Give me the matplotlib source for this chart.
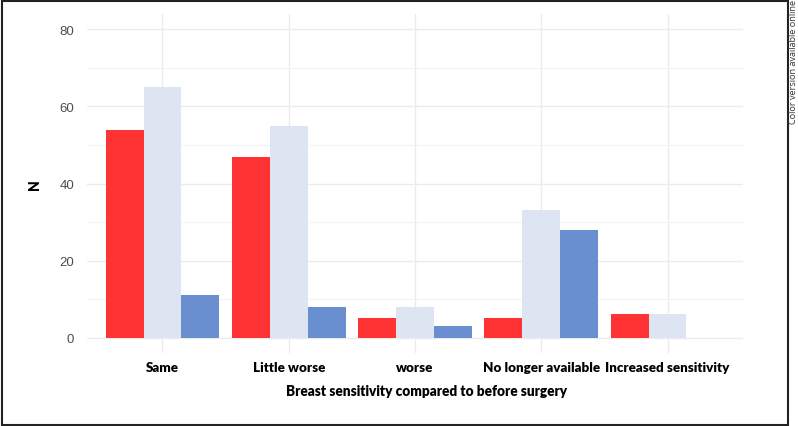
import matplotlib
matplotlib.use("Agg")
import matplotlib.pyplot as plt
import numpy as np
from matplotlib.patches import Rectangle

categories = ["Same", "Little worse", "worse", "No longer available", "Increased sensitivity"]
series_red = [54, 47, 5, 5, 6]
series_light = [65, 55, 8, 33, 6]
series_blue = [11, 8, 3, 28, 0]
y_ticks = [0, 20, 40, 60, 80]

colors = ["#FF3333", "#DDE5F3", "#6A8FD0"]

fig = plt.figure(figsize=(7.98, 4.27), dpi=100)
ax = fig.add_axes([86.7 / 798, 1 - 354 / 427, (743.3 - 86.7) / 798, (354 - 15) / 427])

x = np.arange(1, len(categories) + 1)
w = 0.3
for i, (vals, c) in enumerate(zip([series_red, series_light, series_blue], colors)):
    ax.bar(x + (i - 1) * w, vals, width=w, color=c, zorder=3)

ax.set_xlim(0.4, 5.6)
ax.set_ylim(-4, 84)
ax.set_yticks(y_ticks)
ax.set_yticks([10, 30, 50, 70], minor=True)
ax.set_xticks(x)
ax.set_xticklabels(categories, fontweight="heavy", fontsize=9.6, family="Lato", color="black")
for lab in ax.get_yticklabels():
    lab.set_family("Liberation Sans")
ax.tick_params(axis="x", length=0, pad=6)
ax.tick_params(axis="y", which="both", length=0, pad=9, labelsize=9.5, labelcolor="#4D4D4D")
ax.grid(True, which="major", color="#EBEBEB", linewidth=1.0, zorder=0)
ax.grid(True, which="minor", axis="y", color="#F3F3F3", linewidth=0.8, zorder=0)
for s in ax.spines.values():
    s.set_visible(False)

fig.text(427 / 798, 1 - 392 / 427, "Breast sensitivity compared to before surgery",
         ha="center", va="center", fontweight="heavy", fontsize=9.8, family="Lato")
fig.text(35 / 798, 1 - 185 / 427, "N", rotation=90, ha="center", va="center",
         fontweight="heavy", fontsize=10, family="Lato")
fig.text(793 / 798, 1.0, "Color version available online", rotation=90, ha="center",
         va="top", fontsize=6.6, family="Open Sans", color="#333333")

fig.patches.append(Rectangle((1.5 / 798, 1.5 / 427), 786 / 798, 424 / 427,
                             transform=fig.transFigure, fill=False,
                             edgecolor="#222222", linewidth=1.5))

fig.savefig("out.png", dpi=100)
